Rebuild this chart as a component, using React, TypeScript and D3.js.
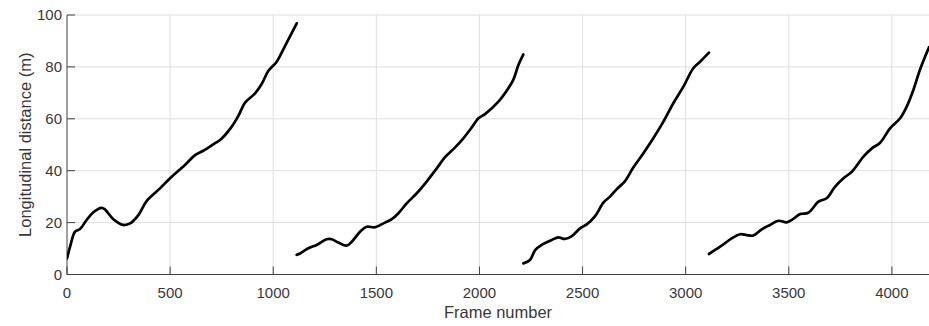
import React from "react";
import * as d3 from "d3";

// Tracked runs: frame index and longitudinal distance (m)
const run1Frames = [0, 15, 39, 63, 95, 128, 168, 184, 225, 273, 306, 346, 386, 451, 500, 572, 621, 661, 718, 742, 799, 831, 863, 912, 944, 976, 1017, 1049, 1114];
const run1Dist = [6.2, 10.7, 16.5, 17.5, 21, 24, 25.7, 25.1, 21.3, 19.1, 19.7, 22.9, 28.3, 33.2, 37.1, 42.2, 46, 47.7, 50.6, 51.8, 57, 61.1, 66.2, 69.8, 73.4, 78.4, 82, 86.8, 96.8];

const run2Frames = [1114, 1130, 1170, 1211, 1259, 1284, 1316, 1356, 1381, 1421, 1453, 1494, 1542, 1575, 1607, 1647, 1696, 1744, 1793, 1833, 1882, 1922, 1963, 1995, 2027, 2092, 2132, 2164, 2189, 2213];
const run2Dist = [7.6, 8.1, 10.1, 11.4, 13.6, 13.6, 12.3, 11.1, 12.6, 16.5, 18.4, 18.2, 20, 21.3, 23.6, 27.4, 31.3, 35.8, 40.9, 45.2, 49, 52.5, 56.7, 60.2, 61.8, 66.6, 70.8, 75, 80.7, 84.8];

const run3Frames = [2213, 2245, 2270, 2302, 2350, 2383, 2415, 2448, 2488, 2520, 2561, 2601, 2633, 2666, 2706, 2746, 2795, 2843, 2892, 2940, 2989, 3037, 3070, 3113];
const run3Dist = [4.3, 5.6, 9.4, 11.4, 13.3, 14.3, 13.7, 14.8, 17.8, 19.3, 22.5, 27.7, 30, 32.9, 36, 41.2, 46.7, 52.5, 58.9, 66, 72.4, 79.5, 82, 85.5];

const run4Frames = [3113, 3167, 3223, 3264, 3296, 3328, 3369, 3409, 3450, 3490, 3522, 3555, 3595, 3644, 3684, 3724, 3765, 3806, 3862, 3903, 3943, 3991, 4040, 4072, 4104, 4137, 4180];
const run4Dist = [7.9, 10.7, 13.9, 15.5, 15.2, 15, 17.4, 19.1, 20.7, 20.1, 21.4, 23.3, 23.8, 28.1, 29.4, 33.8, 37.1, 39.6, 45.4, 48.6, 50.8, 56.3, 60.2, 64.7, 71.1, 79.1, 87.6];

const xTicks = [0, 500, 1000, 1500, 2000, 2500, 3000, 3500, 4000];
const yTicks = [0, 20, 40, 60, 80, 100];

const runs = [
  [run1Frames, run1Dist],
  [run2Frames, run2Dist],
  [run3Frames, run3Dist],
  [run4Frames, run4Dist],
];

const W = 929;
const H = 326;
const M = { left: 67, right: 0, top: 15, bottom: 51.5 };
const FONT = "Arial, 'Liberation Sans', Helvetica, sans-serif";
const TEXT = "#383838";
const AXIS = "#404040";
const GRID = "#dedede";

export default function App() {
  const x = d3.scaleLinear().domain([0, 4180]).range([M.left, W - M.right]);
  const y = d3.scaleLinear().domain([0, 100]).range([H - M.bottom, M.top]);
  const line = d3.line().curve(d3.curveCatmullRom.alpha(0.5));

  const paths = runs.map(([fr, ds]) => {
    const pts: [number, number][] = fr.map((f, i) => [x(f), y(ds[i])]);
    return line(pts) || "";
  });

  const y0 = y(0);
  const tickLen = 8;

  return (
    <svg
      width={W}
      height={H}
      style={{ position: "absolute", left: 0, top: 0, background: "#fff" }}
      fontFamily={FONT}
    >
      <defs>
        <clipPath id="plot">
          <rect x={M.left} y={M.top - 2} width={W - M.left} height={y0 - M.top + 2} />
        </clipPath>
      </defs>
      {/* grid */}
      {xTicks.filter((t) => t > 0).map((t) => (
        <line key={"gx" + t} x1={x(t)} x2={x(t)} y1={M.top} y2={y0} stroke={GRID} strokeWidth={1} />
      ))}
      {yTicks.filter((t) => t > 0).map((t) => (
        <line key={"gy" + t} x1={M.left} x2={W} y1={y(t)} y2={y(t)} stroke={GRID} strokeWidth={1} />
      ))}
      {/* axes */}
      <line x1={M.left} x2={M.left} y1={M.top} y2={y0} stroke={AXIS} strokeWidth={1} />
      <line x1={M.left} x2={W} y1={y0} y2={y0} stroke={AXIS} strokeWidth={1} />
      {xTicks.map((t) => (
        <g key={"tx" + t}>
          <line x1={x(t)} x2={x(t)} y1={y0} y2={y0 - tickLen} stroke={AXIS} strokeWidth={1} />
          <text x={x(t)} y={y0 + 23} textAnchor="middle" fontSize={15} fill={TEXT}>
            {t}
          </text>
        </g>
      ))}
      {yTicks.map((t) => (
        <g key={"ty" + t}>
          <line x1={M.left} x2={M.left + tickLen} y1={y(t)} y2={y(t)} stroke={AXIS} strokeWidth={1} />
          <text x={M.left - 5} y={y(t) + 5.3} textAnchor="end" fontSize={15} fill={TEXT}>
            {t}
          </text>
        </g>
      ))}
      {/* data */}
      <g clipPath="url(#plot)">
        {paths.map((d, i) => (
          <path key={i} d={d} fill="none" stroke="#000" strokeWidth={2.7} strokeLinejoin="round" strokeLinecap="round" />
        ))}
      </g>
      {/* labels */}
      <text x={(M.left + W) / 2} y={318} textAnchor="middle" fontSize={16.5} fill={TEXT}>
        Frame number
      </text>
      <text
        transform={`translate(31, ${(M.top + y0) / 2}) rotate(-90)`}
        textAnchor="middle"
        fontSize={16.5}
        fill={TEXT}
      >
        Longitudinal distance (m)
      </text>
    </svg>
  );
}
